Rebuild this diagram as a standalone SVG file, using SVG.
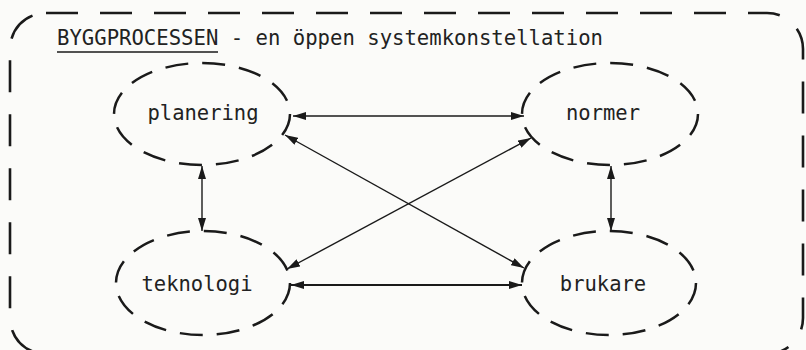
<svg xmlns="http://www.w3.org/2000/svg" width="806" height="350" viewBox="0 0 806 350">
<defs>
<style>
.frame{fill:none;stroke:#1a1a1a;stroke-width:2.6;stroke-dasharray:32 22}
.node{fill:none;stroke:#1a1a1a;stroke-width:2.5;stroke-dasharray:23 14}
.lbl{font-family:"DejaVu Sans Mono","Liberation Mono",monospace;font-size:20.5px;fill:#222}
.conn{stroke:#1a1a1a;stroke-width:1.4;fill:none;marker-start:url(#ah);marker-end:url(#ah)}
</style>
<marker id="ah" viewBox="0 0 13 8" refX="13" refY="4" markerWidth="13" markerHeight="8" markerUnits="userSpaceOnUse" orient="auto-start-reverse">
<path d="M0,0 L13,4 L0,8 z" fill="#1a1a1a"/>
</marker>
</defs>
<rect width="806" height="350" fill="#fbfbf9"/>
<rect class="frame" x="10" y="13" width="793" height="341" rx="36" ry="36"/>
<text class="lbl" x="57" y="45" textLength="546" lengthAdjust="spacingAndGlyphs">BYGGPROCESSEN - en öppen systemkonstellation</text>
<line x1="57" y1="52" x2="218" y2="52" stroke="#1a1a1a" stroke-width="1.4"/>
<g id="connectors">
<line class="conn" x1="293" y1="116" x2="524" y2="116"/>
<line class="conn" x1="202" y1="166" x2="202" y2="231"/>
<line class="conn" x1="611" y1="166" x2="611" y2="231"/>
<line class="conn" x1="291" y1="285" x2="522" y2="285" style="stroke-width:2"/>
<line class="conn" x1="285" y1="135" x2="524" y2="268"/>
<line class="conn" x1="531" y1="138" x2="287" y2="269"/>
</g>
<g id="planering">
<ellipse class="node" cx="202" cy="114" rx="88" ry="51"/>
<text class="lbl" x="203" y="120" text-anchor="middle">planering</text>
</g>
<g id="normer">
<ellipse class="node" cx="610" cy="114" rx="88" ry="51"/>
<text class="lbl" x="603" y="120" text-anchor="middle">normer</text>
</g>
<g id="teknologi">
<ellipse class="node" cx="203" cy="283" rx="87" ry="52"/>
<text class="lbl" x="197" y="291" text-anchor="middle">teknologi</text>
</g>
<g id="brukare">
<ellipse class="node" cx="609" cy="283" rx="87" ry="52"/>
<text class="lbl" x="603" y="291" text-anchor="middle">brukare</text>
</g>
</svg>
